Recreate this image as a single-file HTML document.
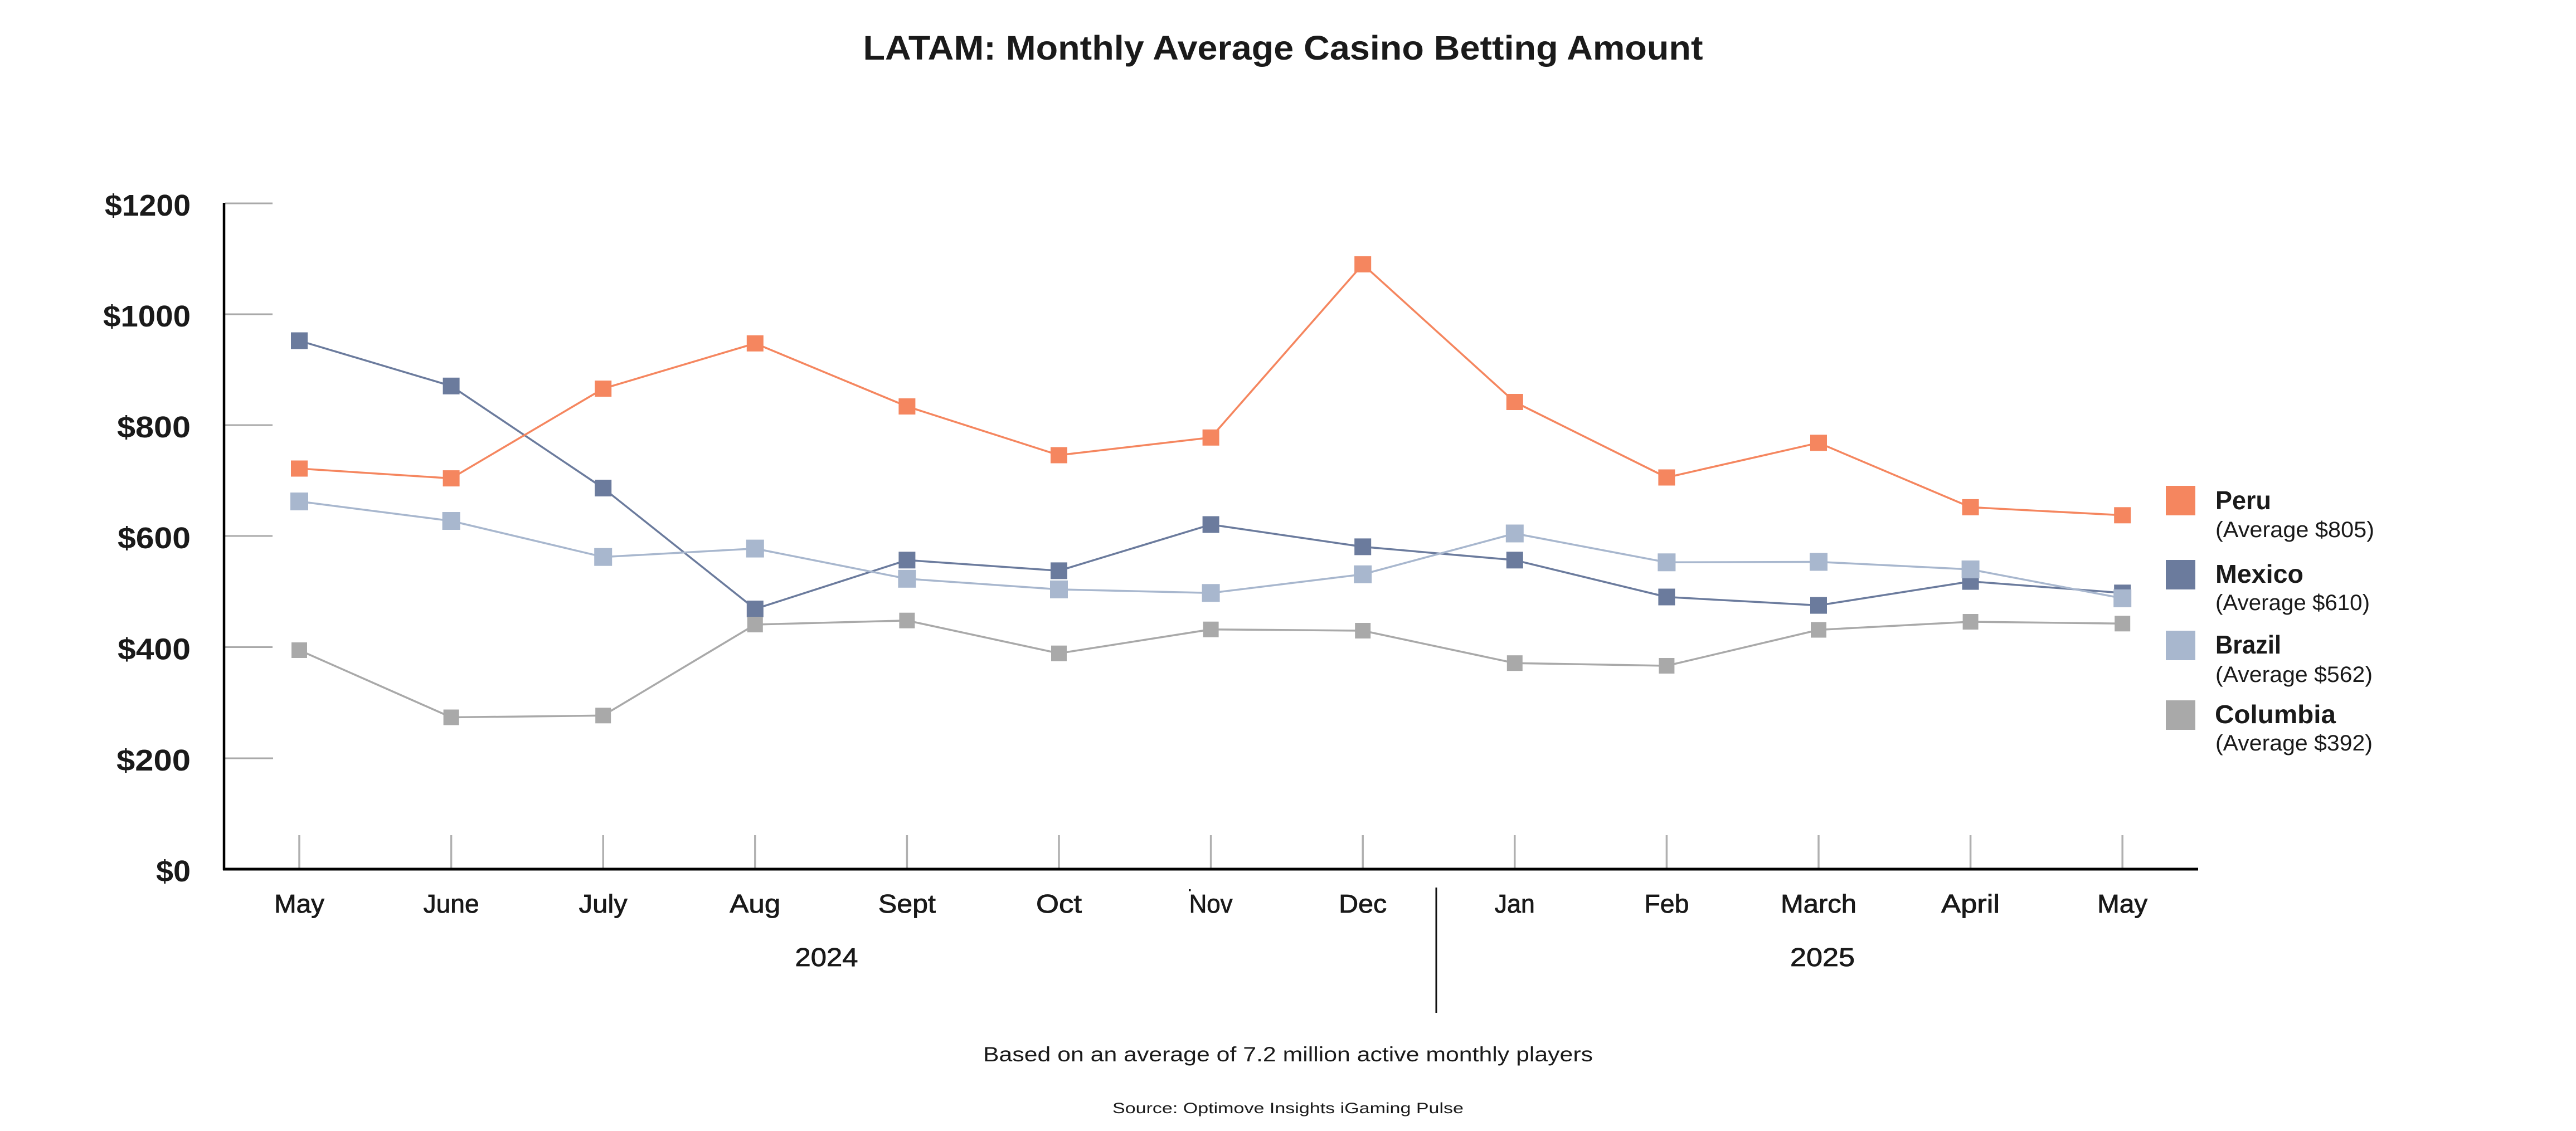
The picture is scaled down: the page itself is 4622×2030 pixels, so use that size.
<!DOCTYPE html>
<html>
<head>
<meta charset="utf-8">
<style>
  html, body { margin: 0; padding: 0; background: #ffffff; }
  body { width: 4622px; height: 2030px; overflow: hidden; }
  svg { display: block; }
  text { font-family: "Liberation Sans", "DejaVu Sans", sans-serif; fill: #1a1a1a; }
</style>
</head>
<body>
<svg width="4622" height="2030" viewBox="0 0 4622 2030" xmlns="http://www.w3.org/2000/svg">
  <rect x="0" y="0" width="4622" height="2030" fill="#ffffff"/>

  <!-- Title -->
  <text x="2302" y="107" text-anchor="middle" font-size="61" font-weight="bold" textLength="1507" lengthAdjust="spacingAndGlyphs">LATAM: Monthly Average Casino Betting Amount</text>

  <!-- Y gridline ticks -->
  <g stroke="#a9a9a9" stroke-width="3">
    <line x1="404" y1="365" x2="489" y2="365"/>
    <line x1="404" y1="564" x2="489" y2="564"/>
    <line x1="404" y1="763" x2="489" y2="763"/>
    <line x1="404" y1="962" x2="489" y2="962"/>
    <line x1="404" y1="1161.5" x2="489" y2="1161.5"/>
    <line x1="404" y1="1361" x2="490" y2="1361"/>
  </g>

  <!-- Month ticks -->
  <g stroke="#b0b0b0" stroke-width="3.5">
    <line x1="537" y1="1499" x2="537" y2="1558"/>
    <line x1="809.6" y1="1499" x2="809.6" y2="1558"/>
    <line x1="1082.2" y1="1499" x2="1082.2" y2="1558"/>
    <line x1="1354.8" y1="1499" x2="1354.8" y2="1558"/>
    <line x1="1627.4" y1="1499" x2="1627.4" y2="1558"/>
    <line x1="1900" y1="1499" x2="1900" y2="1558"/>
    <line x1="2172.6" y1="1499" x2="2172.6" y2="1558"/>
    <line x1="2445.2" y1="1499" x2="2445.2" y2="1558"/>
    <line x1="2717.8" y1="1499" x2="2717.8" y2="1558"/>
    <line x1="2990.4" y1="1499" x2="2990.4" y2="1558"/>
    <line x1="3263" y1="1499" x2="3263" y2="1558"/>
    <line x1="3535.6" y1="1499" x2="3535.6" y2="1558"/>
    <line x1="3808.2" y1="1499" x2="3808.2" y2="1558"/>
  </g>

  <!-- Axes -->
  <line x1="402" y1="364" x2="402" y2="1562" stroke="#000" stroke-width="4.5"/>
  <line x1="400" y1="1560" x2="3944" y2="1560" stroke="#000" stroke-width="5"/>

  <!-- Y labels -->
  <g font-size="54" font-weight="bold" text-anchor="end">
    <text x="342" y="387" textLength="154" lengthAdjust="spacingAndGlyphs">$1200</text>
    <text x="342" y="586" textLength="157" lengthAdjust="spacingAndGlyphs">$1000</text>
    <text x="342" y="785" textLength="132" lengthAdjust="spacingAndGlyphs">$800</text>
    <text x="342" y="984" textLength="131" lengthAdjust="spacingAndGlyphs">$600</text>
    <text x="342" y="1183.5" textLength="131" lengthAdjust="spacingAndGlyphs">$400</text>
    <text x="342" y="1383" textLength="133" lengthAdjust="spacingAndGlyphs">$200</text>
    <text x="342" y="1582" textLength="62" lengthAdjust="spacingAndGlyphs">$0</text>
  </g>

  <!-- Series: Mexico -->
  <polyline fill="none" stroke="#6b7b9d" stroke-width="3.5" stroke-linejoin="round"
    points="537,611.5 809.6,692.8 1082.2,876 1354.8,1093 1627.4,1005.3 1900,1024.4 2172.6,941.5 2445.2,981.4 2717.8,1005.3 2990.4,1071.5 3263,1086.6 3535.6,1043.6 3808.2,1064.3"/>
  <g fill="#6b7b9d">
    <rect x="522" y="596.5" width="30" height="30"/>
    <rect x="794.6" y="677.8" width="30" height="30"/>
    <rect x="1067.2" y="861" width="30" height="30"/>
    <rect x="1339.8" y="1078" width="30" height="30"/>
    <rect x="1612.4" y="990.3" width="30" height="30"/>
    <rect x="1885" y="1009.4" width="30" height="30"/>
    <rect x="2157.6" y="926.5" width="30" height="30"/>
    <rect x="2430.2" y="966.4" width="30" height="30"/>
    <rect x="2702.8" y="990.3" width="30" height="30"/>
    <rect x="2975.4" y="1056.5" width="30" height="30"/>
    <rect x="3248" y="1071.6" width="30" height="30"/>
    <rect x="3520.6" y="1028.6" width="30" height="30"/>
    <rect x="3793.2" y="1049.3" width="30" height="30"/>
  </g>

  <!-- Series: Brazil -->
  <polyline fill="none" stroke="#a8b7ce" stroke-width="3.5" stroke-linejoin="round"
    points="537,900 809.6,935 1082.2,999.7 1354.8,984.6 1627.4,1038.8 1900,1057.9 2172.6,1064.3 2445.2,1030.8 2717.8,957.5 2990.4,1009.3 3263,1008.5 3535.6,1022 3808.2,1073.9"/>
  <g fill="#a8b7ce">
    <rect x="521" y="884" width="32" height="32"/>
    <rect x="793.6" y="919" width="32" height="32"/>
    <rect x="1066.2" y="983.7" width="32" height="32"/>
    <rect x="1338.8" y="968.6" width="32" height="32"/>
    <rect x="1611.4" y="1022.8" width="32" height="32"/>
    <rect x="1884" y="1041.9" width="32" height="32"/>
    <rect x="2156.6" y="1048.3" width="32" height="32"/>
    <rect x="2429.2" y="1014.8" width="32" height="32"/>
    <rect x="2701.8" y="941.5" width="32" height="32"/>
    <rect x="2974.4" y="993.3" width="32" height="32"/>
    <rect x="3247" y="992.5" width="32" height="32"/>
    <rect x="3519.6" y="1006" width="32" height="32"/>
    <rect x="3792.2" y="1057.9" width="32" height="32"/>
  </g>

  <!-- Series: Columbia -->
  <polyline fill="none" stroke="#a9a9a9" stroke-width="3.5" stroke-linejoin="round"
    points="537,1167 809.6,1287.5 1082.2,1284.3 1354.8,1121 1627.4,1113.7 1900,1172.7 2172.6,1129.7 2445.2,1132 2717.8,1190.2 2990.4,1195 3263,1130.5 3535.6,1116 3808.2,1119.3"/>
  <g fill="#a9a9a9">
    <rect x="523" y="1153" width="28" height="28"/>
    <rect x="795.6" y="1273.5" width="28" height="28"/>
    <rect x="1068.2" y="1270.3" width="28" height="28"/>
    <rect x="1340.8" y="1107" width="28" height="28"/>
    <rect x="1613.4" y="1099.7" width="28" height="28"/>
    <rect x="1886" y="1158.7" width="28" height="28"/>
    <rect x="2158.6" y="1115.7" width="28" height="28"/>
    <rect x="2431.2" y="1118" width="28" height="28"/>
    <rect x="2703.8" y="1176.2" width="28" height="28"/>
    <rect x="2976.4" y="1181" width="28" height="28"/>
    <rect x="3249" y="1116.5" width="28" height="28"/>
    <rect x="3521.6" y="1102" width="28" height="28"/>
    <rect x="3794.2" y="1105.3" width="28" height="28"/>
  </g>

  <!-- Series: Peru -->
  <polyline fill="none" stroke="#f5865f" stroke-width="3.5" stroke-linejoin="round"
    points="537,841 809.6,858.6 1082.2,697.6 1354.8,616.3 1627.4,729.5 1900,817 2172.6,785.3 2445.2,474.4 2717.8,721.5 2990.4,857 3263,794.8 3535.6,910.4 3808.2,924.8"/>
  <g fill="#f5865f">
    <rect x="522" y="826.5" width="30" height="29"/>
    <rect x="794.6" y="844.1" width="30" height="29"/>
    <rect x="1067.2" y="683.1" width="30" height="29"/>
    <rect x="1339.8" y="601.8" width="30" height="29"/>
    <rect x="1612.4" y="715" width="30" height="29"/>
    <rect x="1885" y="802.5" width="30" height="29"/>
    <rect x="2157.6" y="770.8" width="30" height="29"/>
    <rect x="2430.2" y="459.9" width="30" height="29"/>
    <rect x="2702.8" y="707" width="30" height="29"/>
    <rect x="2975.4" y="842.5" width="30" height="29"/>
    <rect x="3248" y="780.3" width="30" height="29"/>
    <rect x="3520.6" y="895.9" width="30" height="29"/>
    <rect x="3793.2" y="910.3" width="30" height="29"/>
  </g>

  <!-- Month labels -->
  <g font-size="46" text-anchor="middle" fill="#111" stroke="#111" stroke-width="0.8">
    <text x="537" y="1638" textLength="90" lengthAdjust="spacingAndGlyphs">May</text>
    <text x="809.6" y="1638" textLength="100" lengthAdjust="spacingAndGlyphs">June</text>
    <text x="1082.2" y="1638" textLength="87" lengthAdjust="spacingAndGlyphs">July</text>
    <text x="1354.8" y="1638" textLength="91" lengthAdjust="spacingAndGlyphs">Aug</text>
    <text x="1627.4" y="1638" textLength="103" lengthAdjust="spacingAndGlyphs">Sept</text>
    <text x="1900" y="1638" textLength="82" lengthAdjust="spacingAndGlyphs">Oct</text>
    <text x="2172.6" y="1638" textLength="78" lengthAdjust="spacingAndGlyphs">Nov</text>
    <text x="2445.2" y="1638" textLength="86" lengthAdjust="spacingAndGlyphs">Dec</text>
    <text x="2717.8" y="1638" textLength="72" lengthAdjust="spacingAndGlyphs">Jan</text>
    <text x="2990.4" y="1638" textLength="80" lengthAdjust="spacingAndGlyphs">Feb</text>
    <text x="3263" y="1638" textLength="136" lengthAdjust="spacingAndGlyphs">March</text>
    <text x="3535.6" y="1638" textLength="105" lengthAdjust="spacingAndGlyphs">April</text>
    <text x="3808.2" y="1638" textLength="90" lengthAdjust="spacingAndGlyphs">May</text>
  </g>
  <rect x="2133" y="1596" width="3.5" height="3.5" fill="#111"/>

  <!-- Year labels & divider -->
  <g font-size="46" text-anchor="middle" fill="#111" stroke="#111" stroke-width="0.8">
    <text x="1483" y="1734" textLength="113" lengthAdjust="spacingAndGlyphs">2024</text>
    <text x="3270" y="1734" textLength="116" lengthAdjust="spacingAndGlyphs">2025</text>
  </g>
  <line x1="2577" y1="1593" x2="2577" y2="1818" stroke="#111" stroke-width="3"/>

  <!-- Legend -->
  <rect x="3886" y="872" width="53" height="53" fill="#f5865f"/>
  <rect x="3886" y="1005" width="53" height="53" fill="#6b7b9d"/>
  <rect x="3886" y="1132" width="53" height="53" fill="#a8b7ce"/>
  <rect x="3886" y="1257" width="53" height="53" fill="#a9a9a9"/>
  <g font-size="46" font-weight="bold">
    <text x="3975" y="914" textLength="100" lengthAdjust="spacingAndGlyphs">Peru</text>
    <text x="3975" y="1046" textLength="158" lengthAdjust="spacingAndGlyphs">Mexico</text>
    <text x="3975" y="1173" textLength="118" lengthAdjust="spacingAndGlyphs">Brazil</text>
    <text x="3974" y="1298" textLength="217" lengthAdjust="spacingAndGlyphs">Columbia</text>
  </g>
  <g font-size="40">
    <text x="3975" y="964" textLength="285" lengthAdjust="spacingAndGlyphs">(Average $805)</text>
    <text x="3975" y="1095" textLength="277" lengthAdjust="spacingAndGlyphs">(Average $610)</text>
    <text x="3975" y="1224" textLength="282" lengthAdjust="spacingAndGlyphs">(Average $562)</text>
    <text x="3975" y="1347" textLength="282" lengthAdjust="spacingAndGlyphs">(Average $392)</text>
  </g>

  <!-- Footnotes -->
  <text x="2311" y="1905" text-anchor="middle" font-size="37" textLength="1094" lengthAdjust="spacingAndGlyphs">Based on an average of 7.2 million active monthly players</text>
  <text x="2311" y="1998" text-anchor="middle" font-size="27" textLength="630" lengthAdjust="spacingAndGlyphs">Source: Optimove Insights iGaming Pulse</text>
</svg>
</body>
</html>
